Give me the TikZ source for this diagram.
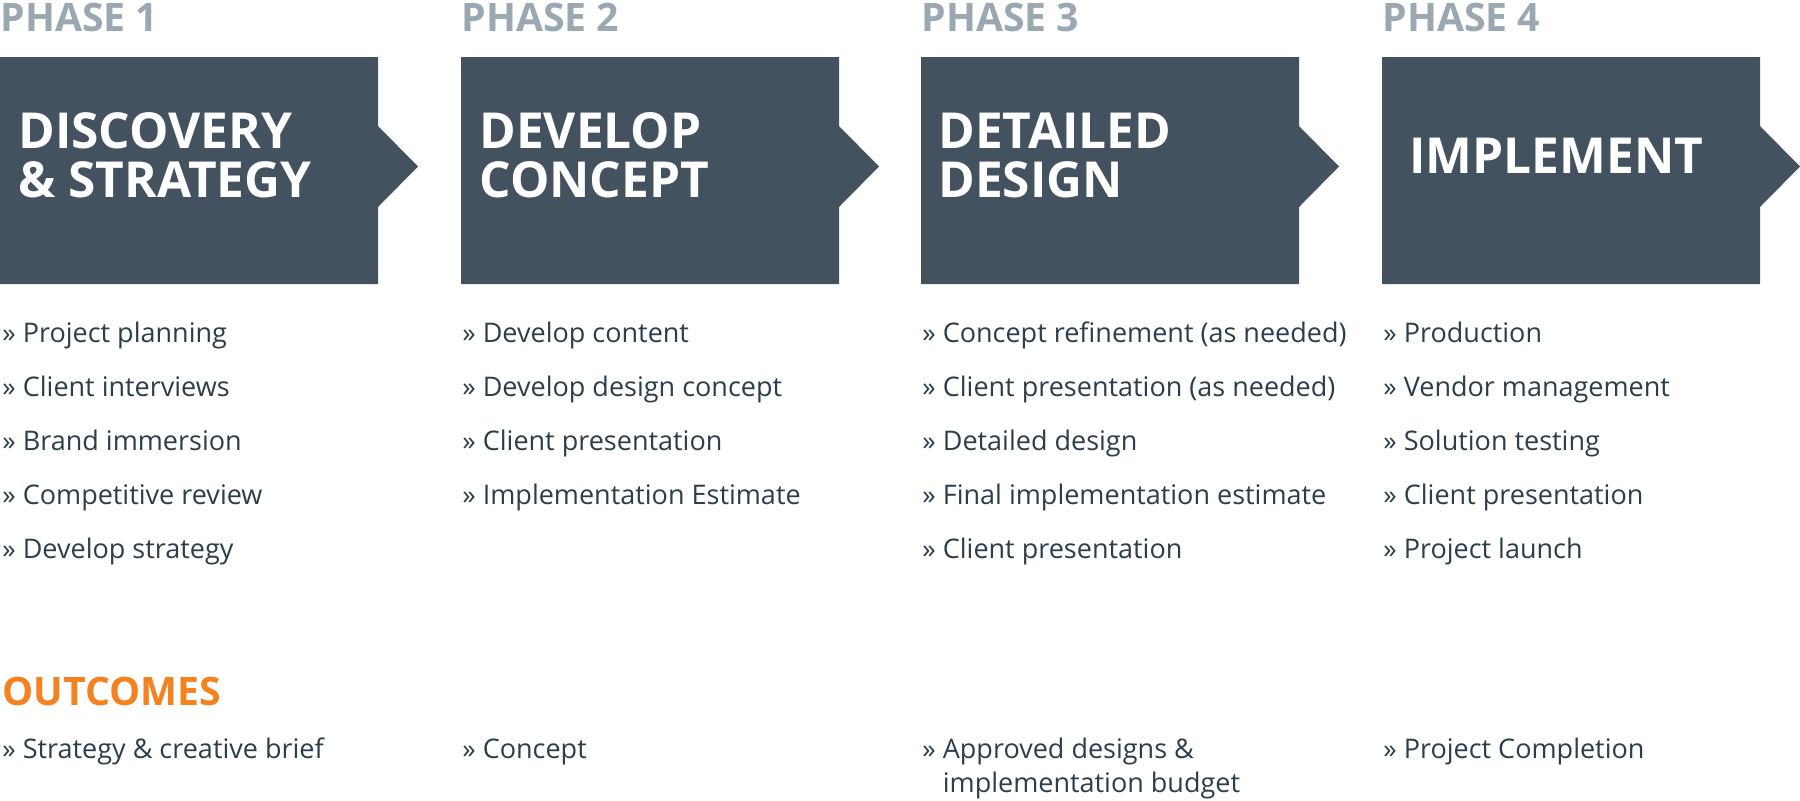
\documentclass[tikz,border=0pt]{standalone}
\usepackage{fontspec}
\setmainfont{Open Sans}
\definecolor{boxgrey}{HTML}{44525F}
\definecolor{phasegrey}{HTML}{9AA8B2}
\definecolor{itemblue}{HTML}{2C3E4C}
\definecolor{outorange}{HTML}{F58220}
\begin{document}
\begin{tikzpicture}
	[x=0.5pt, y=-0.5pt,
	box/.style = {fill=boxgrey},
	phase/.style = {anchor=base west, inner sep=0pt, text=phasegrey, font=\fontsize{19.6}{20}\selectfont\bfseries},
	title/.style = {anchor=base west, inner sep=0pt, align=left, text=white, font=\fontsize{24.8}{24.5}\selectfont\bfseries},
	items/.style = {anchor=base west, inner sep=0pt, align=left, text=itemblue, font=\fontsize{13.5}{27}\selectfont},
	outhead/.style = {phase, text=outorange}]
\useasboundingbox (0,0) rectangle (1800,800);
% arrow boxes and phase labels
\foreach \x/\n in {0/1,461/2,921/3,1382/4} {
	\fill[box] (\x,57) -- (\x+378,57) -- (\x+378,126) -- (\x+418,166.5) -- (\x+378,207) -- (\x+378,284) -- (\x,284) -- cycle;
	\node[phase] (phase\n) at (\x,31) {PHASE \n};
}
% multi-line nodes sit on the baseline of their last line
\node[title] (discovery) at (18,197) {DISCOVERY\\\& STRATEGY};
\node[title] (develop) at (479,197) {DEVELOP\\CONCEPT};
\node[title] (detailed) at (938,197) {DETAILED\\DESIGN};
\node[title] (implement) at (1409,173) {IMPLEMENT};
% tasks
\node[items] (tasks1) at (2,558) {» Project planning\\» Client interviews\\» Brand immersion\\» Competitive review\\» Develop strategy};
\node[items] (tasks2) at (462,504) {» Develop content\\» Develop design concept\\» Client presentation\\» Implementation Estimate};
\node[items] (tasks3) at (922,558) {» Concept refinement (as needed)\\» Client presentation (as needed)\\» Detailed design\\» Final implementation estimate\\» Client presentation};
\node[items] (tasks4) at (1383,558) {» Production\\» Vendor management\\» Solution testing\\» Client presentation\\» Project launch};
% outcomes
\node[outhead] (outcomes) at (2,705) {OUTCOMES};
\node[items] (out1) at (2,758) {» Strategy \& creative brief};
\node[items] (out2) at (462,758) {» Concept};
\node[items] (out3) at (922,792) {» Approved designs \&\\[-10pt]\phantom{» }implementation budget};
\node[items] (out4) at (1383,758) {» Project Completion};
%\draw[help lines] (0,0) grid (1800,800);
\end{tikzpicture}
\end{document}
